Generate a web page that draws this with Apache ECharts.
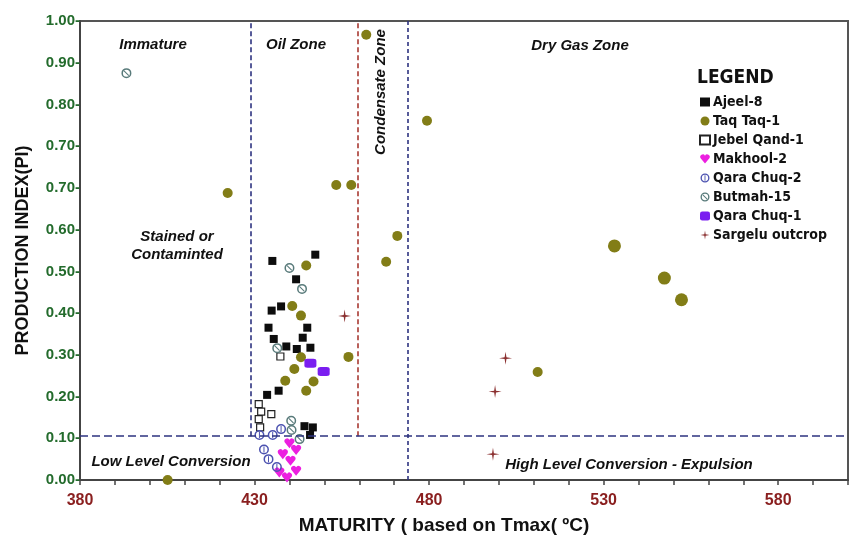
<!DOCTYPE html>
<html>
<head>
<meta charset="utf-8">
<script src="https://cdn.jsdelivr.net/npm/echarts@6/dist/echarts.min.js"></script>
<style>
    html, body { margin: 0; padding: 0; background: #fff; }
    #my_echart { width: 849px; height: 536px; }
</style>
</head>
<body>
<div id="my_echart"></div>
<script>
// tick labels (the source chart prints 0.70 twice)
var yTickLabels = ['0.00', '0.10', '0.20', '0.30', '0.40', '0.50', '0.60', '0.70', '0.70', '0.80', '0.90', '1.00'];
var xTickLabels = [380, 430, 480, 530, 580];

// [Tmax, PI], PI in plotted-axis units
var ajeel8 = [[447.4, 0.540], [435.1, 0.525], [441.9, 0.481], [437.6, 0.416], [434.9, 0.406], [434.0, 0.365], [445.1, 0.365], [435.5, 0.338], [443.8, 0.341], [439.1, 0.320], [442.1, 0.314], [446.0, 0.317], [436.9, 0.214], [433.6, 0.204], [444.3, 0.129], [446.7, 0.126], [445.9, 0.108]];
var taqTaq1 = [[405.1, 0.0], [422.3, 0.688], [453.4, 0.707], [457.7, 0.707], [462.0, 1.067], [479.4, 0.861], [470.9, 0.585], [467.7, 0.523], [456.9, 0.295], [533.1, 0.561], [547.4, 0.484], [552.3, 0.432], [511.1, 0.259], [444.8, 0.514], [440.8, 0.417], [443.3, 0.394], [443.3, 0.294], [441.4, 0.266], [438.8, 0.238], [446.9, 0.236], [444.8, 0.214]];
var jebelQand1 = [[437.4, 0.296], [431.2, 0.182], [431.9, 0.164], [434.8, 0.158], [431.2, 0.146], [431.6, 0.126]];
var makhool2 = [[440.0, 0.088], [441.9, 0.072], [438.1, 0.062], [440.3, 0.046], [441.9, 0.022], [437.1, 0.018], [439.3, 0.006]];
var qaraChuq2 = [[431.4, 0.108], [435.2, 0.108], [437.6, 0.122], [432.7, 0.073], [434.0, 0.050], [436.4, 0.031]];
var butmah15 = [[393.3, 0.975], [440.0, 0.508], [443.6, 0.458], [436.5, 0.316], [440.5, 0.142], [440.6, 0.120], [442.9, 0.098]];
var qaraChuq1 = [[446.0, 0.280], [449.8, 0.260]];
var sargelu = [[455.8, 0.393], [501.9, 0.292], [498.9, 0.212], [498.3, 0.062]];

// zone boundaries: oil, condensate, dry gas (Tmax) and conversion level
var zoneTmax = [429, 459.5, 474];
var conversionPI = 0.105;

var NARROW = '"Liberation Sans Narrow", "DejaVu Sans Condensed", "Liberation Sans", sans-serif';
var SANS = '"Liberation Sans", Arial, sans-serif';

// symbols
var ringSlash = 'path://M10,0 A10,10 0 1,1 10,20 A10,10 0 1,1 10,0 Z M10,3 A7,7 0 1,0 10,17 A7,7 0 1,0 10,3 Z M4.5,6 L6,4.5 L15.5,14 L14,15.5 Z';
var ringBar = 'path://M10,0 A10,10 0 1,1 10,20 A10,10 0 1,1 10,0 Z M10,3 A7,7 0 1,0 10,17 A7,7 0 1,0 10,3 Z M9,4 L11,4 L11,16 L9,16 Z';
var heart = 'path://M10,19 L1.5,9 A4.6,4.6 0 0,1 10,4 A4.6,4.6 0 0,1 18.5,9 Z';
var star4 = 'path://M10,0 L11.4,8.6 L20,10 L11.4,11.4 L10,20 L8.6,11.4 L0,10 L8.6,8.6 Z';

var mychart = echarts.init(document.getElementById('my_echart'));

function zoneText(x, y, text, rot) {
    return {
        type: 'text',
        x: x,
        y: y,
        rotation: rot || 0,
        style: {
            text: text,
            font: 'italic bold 15px ' + SANS,
            fill: '#111',
            align: 'center',
            verticalAlign: 'middle'
        }
    };
}

mychart.setOption({
    animation: false,
    title: {
        text: 'LEGEND',
        left: 692,
        top: 64,
        textStyle: { fontFamily: NARROW, fontSize: 19, fontWeight: 'bold', color: '#111' }
    },
    legend: {
        orient: 'vertical',
        left: 694,
        top: 90,
        itemWidth: 10,
        itemHeight: 9,
        itemGap: 5,
        textStyle: { fontFamily: NARROW, fontSize: 14, fontWeight: 'bold', color: '#111', padding: [0, 0, 0, -2] },
        data: ['Ajeel-8', 'Taq Taq-1', 'Jebel Qand-1', 'Makhool-2', 'Qara Chuq-2', 'Butmah-15', 'Qara Chuq-1', 'Sargelu outcrop']
    },
    grid: {
        left: 80,
        right: 1,
        top: 21,
        bottom: 56,
        outerBoundsMode: 'none',
        containLabel: false,
        show: true,
        borderColor: '#555',
        borderWidth: 2
    },
    xAxis: {
        type: 'value',
        min: 380,
        max: 600,
        interval: 10,
        name: 'MATURITY ( based on Tmax( ºC)',
        nameLocation: 'middle',
        nameGap: 36,
        nameTextStyle: { fontFamily: SANS, fontSize: 19, fontWeight: 'bold', color: '#111', padding: [0, 40, 0, 0] },
        axisLine: { lineStyle: { color: '#444', width: 2 } },
        axisTick: { length: 5, lineStyle: { color: '#444', width: 1.5 } },
        axisLabel: {
            margin: 13,
            fontFamily: SANS,
            fontSize: 16,
            fontWeight: 'bold',
            color: '#8a1f1f',
            formatter: function (v) {
                return xTickLabels.indexOf(v) >= 0 ? String(v) : '';
            }
        },
        splitLine: { show: false }
    },
    yAxis: {
        type: 'value',
        min: 0,
        max: 1.1,
        interval: 0.1,
        name: 'PRODUCTION INDEX(PI)',
        nameLocation: 'middle',
        nameGap: 48,
        nameTextStyle: { fontFamily: SANS, fontSize: 18, fontWeight: 'bold', color: '#111' },
        axisLine: { lineStyle: { color: '#444', width: 2 } },
        axisTick: { show: false },
        axisLabel: {
            margin: 0,
            fontFamily: SANS,
            fontSize: 15,
            fontWeight: 'bold',
            color: '#236b2c',
            formatter: function (v) {
                return yTickLabels[Math.round(v * 10)] + '-';
            }
        },
        splitLine: { show: false }
    },
    graphic: [
        zoneText(153, 45, 'Immature'),
        zoneText(296, 45, 'Oil Zone'),
        zoneText(580, 46, 'Dry Gas Zone'),
        zoneText(381, 92, 'Condensate Zone', Math.PI / 2),
        zoneText(177, 237, 'Stained or'),
        zoneText(177, 255, 'Contaminted'),
        zoneText(171, 462, 'Low Level Conversion'),
        zoneText(629, 465, 'High Level Conversion - Expulsion')
    ],
    series: [
        {
            name: 'zones',
            type: 'line',
            data: [],
            z: 1,
            markLine: {
                silent: true,
                symbol: 'none',
                label: { show: false },
                data: [
                    [{ coord: [zoneTmax[0], conversionPI], lineStyle: { color: '#2e3380', width: 1.6, type: [5, 3] } }, { coord: [zoneTmax[0], 1.1] }],
                    [{ coord: [zoneTmax[1], conversionPI], lineStyle: { color: '#a83a32', width: 1.6, type: [5, 3] } }, { coord: [zoneTmax[1], 1.1] }],
                    [{ coord: [zoneTmax[2], 0], lineStyle: { color: '#2e3380', width: 1.6, type: [4, 3] } }, { coord: [zoneTmax[2], 1.1] }],
                    [{ coord: [380, conversionPI], lineStyle: { color: '#2e3380', width: 1.6, type: [8, 4] } }, { coord: [600, conversionPI] }]
                ]
            }
        },
        {
            name: 'Ajeel-8', type: 'scatter', data: ajeel8,
            symbol: 'rect', symbolSize: 8,
            itemStyle: { color: '#0d0d0d', opacity: 1 }
        },
        {
            name: 'Taq Taq-1', type: 'scatter', data: taqTaq1,
            symbol: 'circle',
            symbolSize: function (d) { return d[0] > 525 ? 13 : 10; },
            itemStyle: { color: '#827d17', opacity: 1 }
        },
        {
            name: 'Jebel Qand-1', type: 'scatter', data: jebelQand1,
            symbol: 'rect', symbolSize: 7,
            itemStyle: { color: '#fff', borderColor: '#222', borderWidth: 1.2, opacity: 1 }
        },
        {
            name: 'Makhool-2', type: 'scatter', data: makhool2,
            symbol: heart, symbolSize: 10,
            itemStyle: { color: '#ec1fe0', opacity: 1 }
        },
        {
            name: 'Qara Chuq-2', type: 'scatter', data: qaraChuq2,
            symbol: ringBar, symbolSize: 10,
            itemStyle: { color: '#4c52b0', opacity: 1 }
        },
        {
            name: 'Butmah-15', type: 'scatter', data: butmah15,
            symbol: ringSlash, symbolSize: 10,
            itemStyle: { color: '#587a7a', opacity: 1 }
        },
        {
            name: 'Qara Chuq-1', type: 'scatter', data: qaraChuq1,
            symbol: 'roundRect', symbolSize: [12, 9],
            itemStyle: { color: '#7a1ef0', opacity: 1 }
        },
        {
            name: 'Sargelu outcrop', type: 'scatter', data: sargelu,
            symbol: star4, symbolSize: 13,
            itemStyle: { color: '#8b3030', opacity: 1 }
        }
    ]
});
</script>
</body>
</html>
